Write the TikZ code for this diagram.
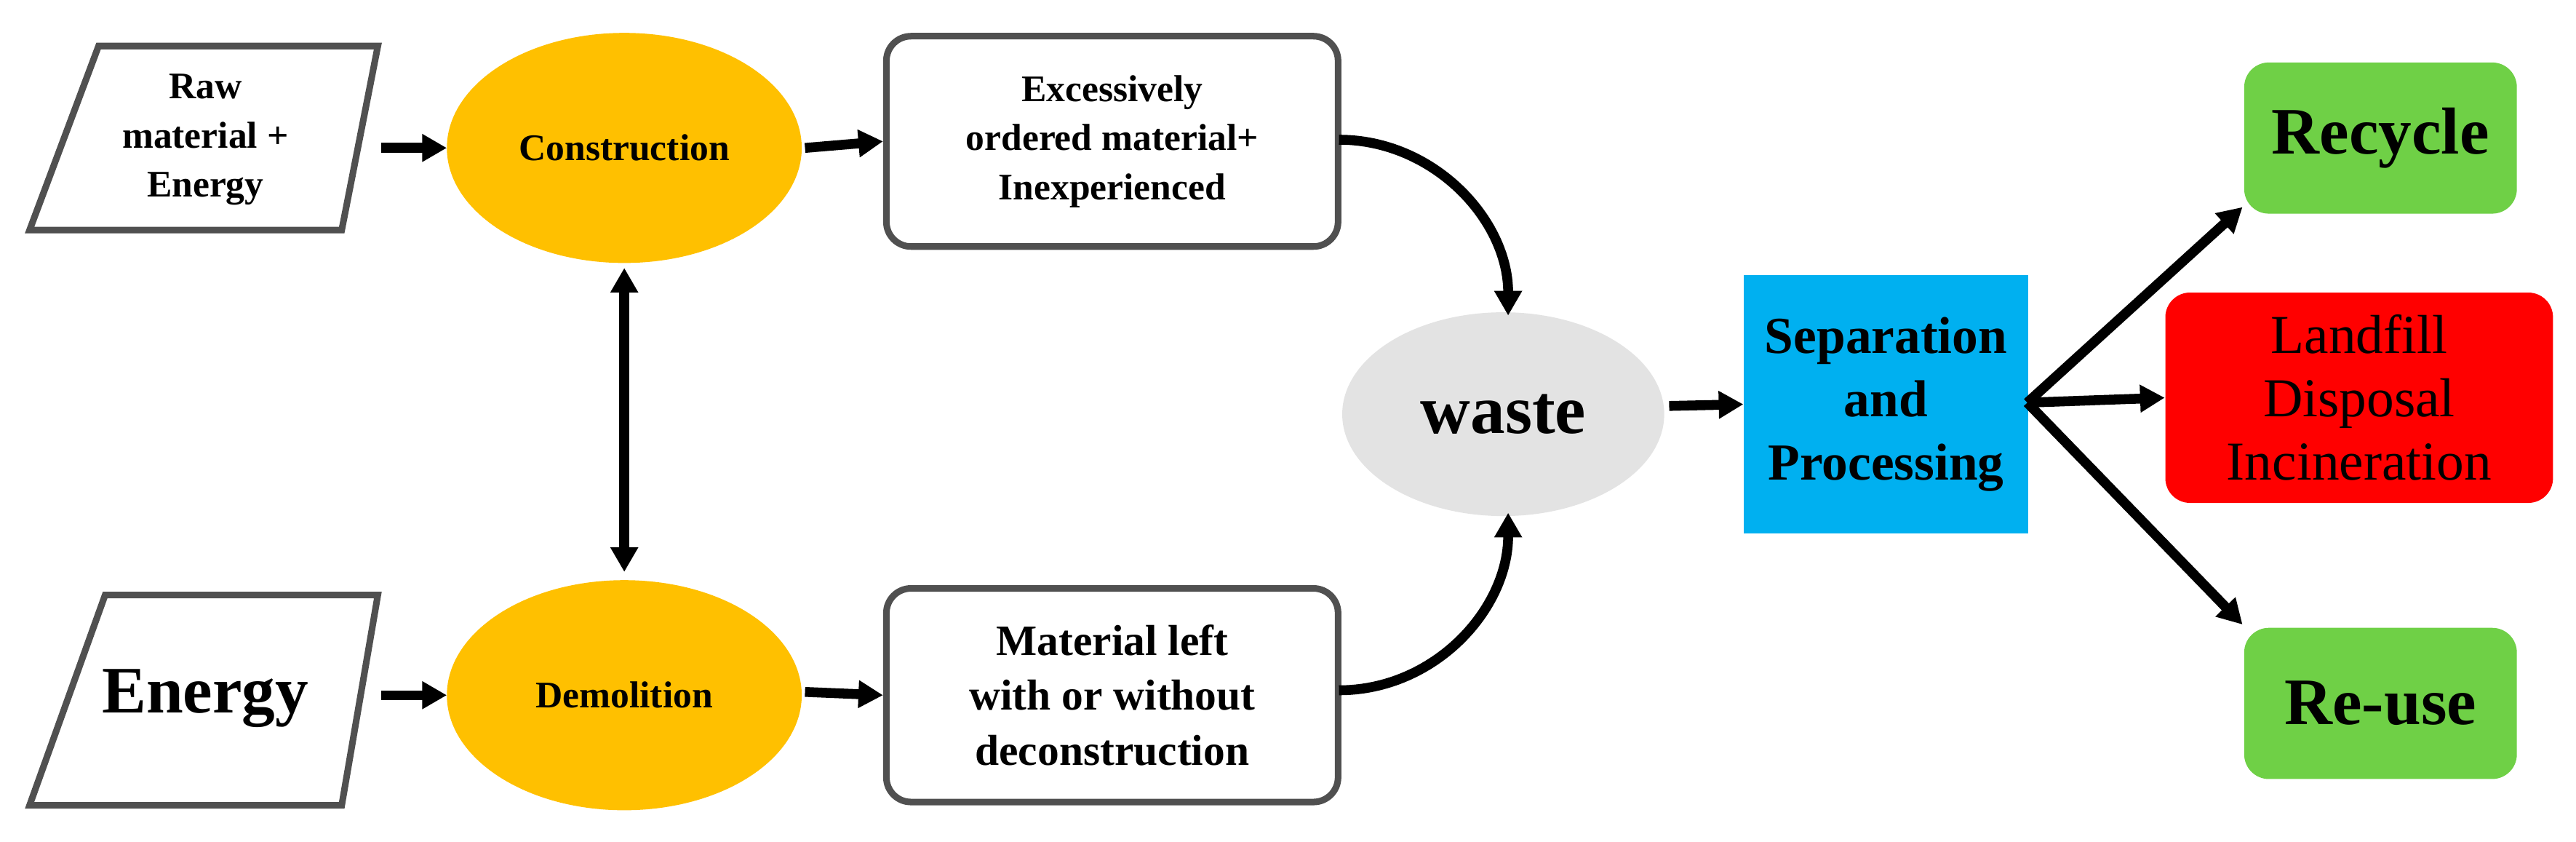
\documentclass[tikz,border=0pt]{standalone}
\usepackage{fontspec}
\setmainfont{Liberation Serif}
\usetikzlibrary{arrows.meta}
\definecolor{bd}{HTML}{505050}
\definecolor{org}{HTML}{FFC000}
\definecolor{sky}{HTML}{00B0F0}
\definecolor{grn}{HTML}{6FD046}
\begin{document}
\begin{tikzpicture}[x=0.02cm,y=-0.02cm,
 box/.style={draw=bd,line width=0.08cm,rounded corners=0.3cm,fill=white,align=center,font=\bfseries\fontsize{13}{17}\selectfont},
 arr/.style={-{Triangle[length=0.3cm,width=0.32cm]},line width=0.12cm},
 tag/.style={rounded corners=0.3cm,align=center,draw=none}]
\useasboundingbox (0,0) rectangle (1568,512);
% parallelograms
\draw[bd,line width=0.08cm,fill=white] (18,140)--(60,28)--(230,28)--(208,140)--cycle;
\node[align=center,font=\bfseries\fontsize{13}{17}\selectfont] (raw) at (125,85) {Raw\\material +\\Energy};
\draw[bd,line width=0.08cm,fill=white] (18,490)--(64,362)--(230,362)--(208,490)--cycle;
\node[font=\bfseries\fontsize{23}{26}\selectfont] (en) at (125,425) {Energy};
\coordinate (rawR) at (232,90); \coordinate (enR) at (232,423);
% ellipses
\fill[org] (380,90) ellipse [x radius=108,y radius=70];
\node[font=\bfseries\fontsize{13}{16}\selectfont] (con) at (380,90) {Construction};
\fill[org] (380,423) ellipse [x radius=108,y radius=70];
\node[font=\bfseries\fontsize{13}{16}\selectfont] (dem) at (380,423) {Demolition};
\coordinate (conL) at (272,90); \coordinate (conR) at (490,90);
\coordinate (conB) at (380,163); \coordinate (demT) at (380,348);
\coordinate (demL) at (272,423); \coordinate (demR) at (490,421);
\draw[arr] (rawR)--(conL);
\draw[arr] (enR)--(demL);
\draw[{Triangle[length=0.3cm,width=0.32cm]}-{Triangle[length=0.3cm,width=0.32cm]},line width=0.12cm] (conB)--(demT);
% boxes
\node[box,minimum width=5.5cm,minimum height=2.56cm] (ex) at (677,86) {Excessively\\ordered material+\\Inexperienced};
\node[box,minimum width=5.5cm,minimum height=2.6cm,font=\bfseries\fontsize{15}{19}\selectfont] (ml) at (677,423) {Material left\\with or without\\deconstruction};
\draw[arr] (conR)--(ex.west);
\draw[arr] (demR)--(ml.west);
% waste
\fill[gray!22] (915,252) ellipse [x radius=98,y radius=62];
\node[font=\bfseries\fontsize{24}{28}\selectfont] (w) at (915,252) {waste};
\coordinate (wT) at (918,192); \coordinate (wB) at (918,312);
\coordinate (exR) at (815,85); \coordinate (mlR) at (815,420);
\draw[arr] (exR) to[out=0,in=90] (wT);
\draw[arr] (mlR) to[out=0,in=-90] (wB);
% separation
\node[fill=sky,minimum width=3.46cm,minimum height=3.14cm,align=center,font=\bfseries\fontsize{18}{22}\selectfont] (sep) at (1148,246) {Separation\\and\\Processing};
\coordinate (wR) at (1016,247);
\draw[arr] (wR)--(sep.west);
% outputs
\node[tag,fill=grn,minimum width=3.32cm,minimum height=1.84cm,font=\bfseries\fontsize{23}{26}\selectfont] (rec) at (1449,84) {Recycle};
\node[tag,fill=red,minimum width=4.72cm,minimum height=2.56cm,font=\fontsize{19}{22}\selectfont] (lf) at (1436,242) {Landfill\\Disposal\\Incineration};
\node[tag,fill=grn,minimum width=3.32cm,minimum height=1.84cm,font=\bfseries\fontsize{23}{26}\selectfont] (reu) at (1449,428) {Re-use};
\coordinate (sR) at (1234,245);
\coordinate (recT) at (1365,126); \coordinate (reuT) at (1365,380);
\draw[arr] (sR)--(recT);
\draw[arr] (sR)--(lf.west);
\draw[arr] (sR)--(reuT);
\end{tikzpicture}
\end{document}
